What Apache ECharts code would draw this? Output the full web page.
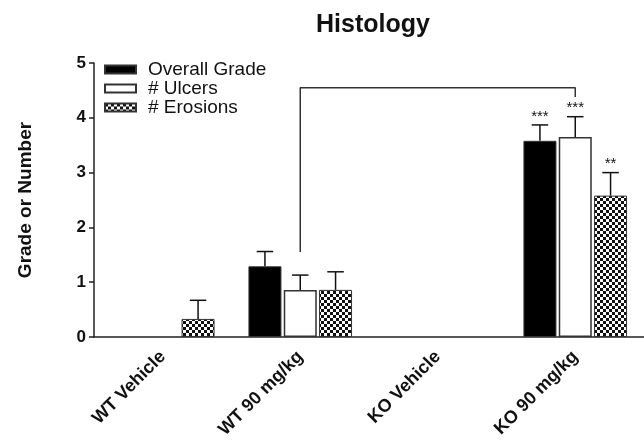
<!DOCTYPE html>
<html>
<head>
<meta charset="utf-8">
<script src="https://cdn.jsdelivr.net/npm/echarts@6/dist/echarts.min.js"></script>
<style>
  html, body {margin: 0; padding: 0; background: #fff;}
  #chart {width: 644px; height: 441px;}
</style>
</head>
<body>
<div id="chart"></div>
<script>
const groups = ['WT Vehicle', 'WT 90 mg/kg', 'KO Vehicle', 'KO 90 mg/kg']
const seriesNames = ['Overall Grade', '# Ulcers', '# Erosions']

// means
const overallGrade = [0, 1.29, 0, 3.58]
const ulcers = [0, 0.86, 0, 3.65]
const erosions = [0.33, 0.86, 0, 2.58]

// mean + SEM (top of error bar), null = none drawn
const overallErr = [null, 1.56, null, 3.87]
const ulcersErr = [null, 1.13, null, 4.02]
const erosionsErr = [0.67, 1.19, null, 3.0]

// significance marks
const overallStars = ['', '', '', '***']
const ulcersStars = ['', '', '', '***']
const erosionsStars = ['', '', '', '**']

// bracket: [groupIndex, value] points
const bracket = [[1, 1.55], [1, 4.55], [3, 4.55], [3, 4.38]]

const yTicks = [0, 1, 2, 3, 4, 5]

// checkerboard fill
const pat = document.createElement('canvas')
pat.width = 6
pat.height = 6
const pctx = pat.getContext('2d')
pctx.fillStyle = '#fff'
pctx.fillRect(0, 0, 6, 6)
pctx.fillStyle = '#111'
pctx.fillRect(0, 0, 3, 3)
pctx.fillRect(3, 3, 3, 3)

const BAR_W = 0.24 // fraction of band
const GAP = 0.07   // fraction of bar width
const means = [overallGrade, ulcers, erosions]

function offsetFor(i, band) {
  const w = band * BAR_W
  const g = w * GAP
  const total = 3 * w + 2 * g
  return -total / 2 + i * (w + g) + w / 2
}

// zero-height bars are not drawn in the original
const hideZero = arr => arr.map(v => v === 0 ? '-' : v)

function errSeries(idx, errs, stars) {
  return {
    type: 'custom',
    z: 5,
    silent: true,
    data: errs.map((e, i) => [i, e === null ? '-' : e]),
    renderItem: (params, api) => {
      const e = api.value(1)
      if (isNaN(e)) return
      const base = means[idx][params.dataIndex]
      const band = api.size([1, 0])[0]
      const p0 = api.coord([api.value(0), base])
      const p1 = api.coord([api.value(0), e])
      const x = p0[0] + offsetFor(idx, band)
      const capW = band * BAR_W * 0.5
      const ch = [
        {type: 'line', shape: {x1: x, y1: p0[1], x2: x, y2: p1[1]}, style: {stroke: '#111', lineWidth: 1.5}},
        {type: 'line', shape: {x1: x - capW / 2, y1: p1[1], x2: x + capW / 2, y2: p1[1]}, style: {stroke: '#111', lineWidth: 1.5}}
      ]
      const s = stars[params.dataIndex]
      if (s) {
        ch.push({type: 'text', x: x, y: p1[1] - 1, style: {text: s, fill: '#111', font: '15px Arial', align: 'center', verticalAlign: 'bottom'}})
      }
      return {type: 'group', children: ch}
    }
  }
}

const chart = echarts.init(document.getElementById('chart'))

chart.setOption({
  animation: false,
  backgroundColor: '#fff',
  title: {
    text: 'Histology',
    left: 311,
    top: 8,
    textStyle: {fontFamily: 'Arial', fontWeight: 'bold', fontSize: 25, color: '#111'}
  },
  legend: {
    orient: 'vertical',
    left: 99,
    top: 55,
    itemWidth: 31,
    itemHeight: 8,
    itemGap: 0,
    icon: 'rect',
    data: seriesNames,
    textStyle: {fontFamily: 'Arial', fontSize: 19, lineHeight: 17, color: '#111', padding: [0, 0, 0, 7]}
  },
  grid: {left: 94, right: 0, top: 63, bottom: 103, containLabel: false},
  xAxis: {
    type: 'category',
    data: groups,
    axisLine: {lineStyle: {color: '#222', width: 1.5}},
    axisTick: {alignWithLabel: true, length: 6, lineStyle: {color: '#222', width: 1.5}},
    axisLabel: {rotate: 45, interval: 0, margin: 17, fontFamily: 'Arial', fontWeight: 'bold', fontSize: 18, color: '#111'}
  },
  yAxis: {
    type: 'value',
    min: 0,
    max: 5,
    interval: 1,
    name: 'Grade or Number',
    nameLocation: 'middle',
    nameGap: 59,
    nameTextStyle: {fontFamily: 'Arial', fontWeight: 'bold', fontSize: 19, color: '#111'},
    axisLine: {show: true, lineStyle: {color: '#222', width: 1.5}},
    axisTick: {show: true, length: 5, lineStyle: {color: '#222', width: 1.5}},
    splitLine: {show: false},
    axisLabel: {
      fontFamily: 'Arial', fontWeight: 'bold', fontSize: 17, color: '#111', margin: 8,
      formatter: v => yTicks.includes(v) ? String(v) : ''
    }
  },
  series: [
    {
      name: seriesNames[0], type: 'bar', data: hideZero(overallGrade),
      barWidth: (BAR_W * 100) + '%', barGap: (GAP * 100) + '%',
      itemStyle: {color: '#000', borderColor: '#333', borderWidth: 1}
    },
    {
      name: seriesNames[1], type: 'bar', data: hideZero(ulcers),
      barWidth: (BAR_W * 100) + '%', barGap: (GAP * 100) + '%',
      itemStyle: {color: '#fff', borderColor: '#333', borderWidth: 1.5}
    },
    {
      name: seriesNames[2], type: 'bar', data: hideZero(erosions),
      barWidth: (BAR_W * 100) + '%', barGap: (GAP * 100) + '%',
      itemStyle: {color: {image: pat, repeat: 'repeat'}, borderColor: '#333', borderWidth: 1}
    },
    errSeries(0, overallErr, overallStars),
    errSeries(1, ulcersErr, ulcersStars),
    errSeries(2, erosionsErr, erosionsStars),
    {
      type: 'line',
      data: bracket,
      symbol: 'none',
      silent: true,
      z: 4,
      lineStyle: {color: '#333', width: 1.5}
    }
  ]
})
</script>
</body>
</html>
